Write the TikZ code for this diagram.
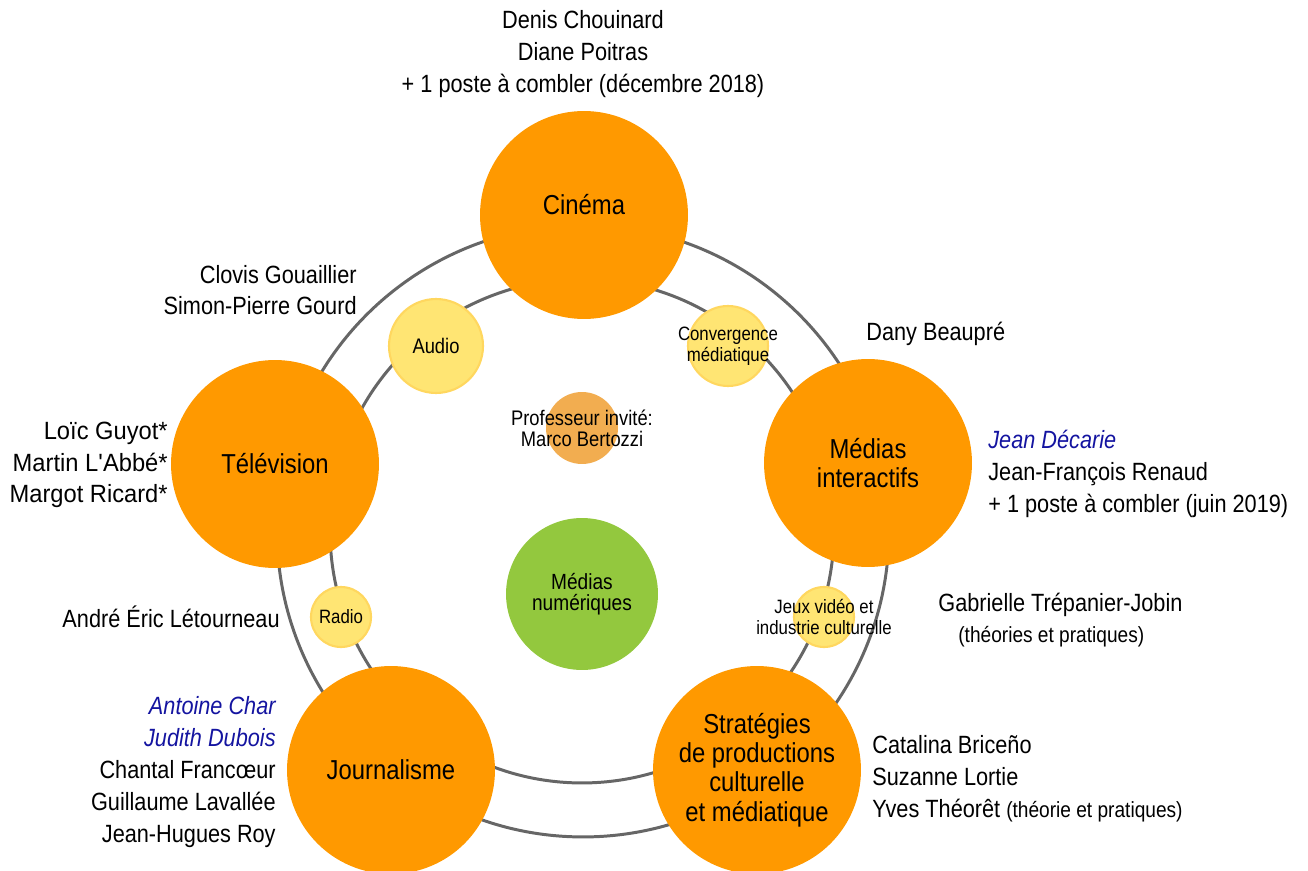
\documentclass[tikz,border=0pt]{standalone}
\usepackage{fontspec}
\setmainfont[FakeStretch=0.87]{Liberation Sans}
\definecolor{polefill}{RGB}{255,153,0}
\definecolor{guestfill}{RGB}{242,173,80}
\definecolor{axefill}{RGB}{255,229,115}
\definecolor{axeline}{RGB}{255,215,95}
\definecolor{hubfill}{RGB}{147,200,62}
\definecolor{ringgray}{RGB}{102,102,102}
\definecolor{newprof}{RGB}{20,20,160}
\newcommand{\detail}{\fontsize{12.5}{14}\selectfont}

\begin{document}
\begin{tikzpicture}[x=0.02cm, y=-0.02cm,
    ring/.style={draw=ringgray, line width=1.7pt, circle, inner sep=0pt},
    pole/.style={circle, fill=polefill, minimum size=4.16cm, inner sep=0pt, align=center, font=\fontsize{15.6}{16.6}\selectfont},
    axe/.style={circle, fill=axefill, draw=axeline, line width=1.2pt, inner sep=0pt},
    tag/.style={align=center, inner sep=0pt, font=\fontsize{11}{11.9}\selectfont},
    names/.style={align=right, anchor=east, inner sep=0pt, font=\fontsize{14.2}{18.1}\selectfont},
    namesl/.style={names, align=left, anchor=west},
    detailnames/.style={namesl, font=\detail}
  ]
    \useasboundingbox (0,0) rectangle (1308,871);

    % Rings
    \node[ring, minimum size=12.24cm] (outer) at (583,531) {};
    \node[ring, minimum size=10.08cm] (inner) at (582,531) {};

    % Poles
    \node[pole] at (584,215) (cinema)      {};
    \node[tag, font=\fontsize{15.6}{16.6}\selectfont] at (584,205) (cinema-t) {Cinéma};
    \node[pole] at (275,464) (tele)        {Télévision};
    \node[pole] at (868,463) (interactifs) {Médias\\interactifs};
    \node[pole] at (391,770) (journalisme) {Journalisme};
    \node[pole] at (757,770) (strategies)  {Stratégies\\de productions\\culturelle\\et médiatique};

    % Axes
    \node[axe, minimum size=1.88cm] at (436,346) (audio)       {};
    \node[axe, minimum size=1.60cm] at (728,346) (convergence) {};
    \node[axe, minimum size=1.20cm] at (341,617) (radio)       {};
    \node[axe, minimum size=1.20cm] at (824,617) (jeux)        {};
    \node[tag, font=\fontsize{12}{12.5}\selectfont] at (audio) (audio-t) {Audio};
    \node[tag] at (convergence) (convergence-t) {Convergence\\médiatique};
    \node[tag] at (radio) (radio-t) {Radio};
    \node[tag] at (jeux)  (jeux-t)  {Jeux vidéo et\\industrie culturelle};

    % Centre
    \node[circle, fill=guestfill, minimum size=1.44cm] at (582,428) (invite) {};
    \node[tag, font=\fontsize{12}{11.9}\selectfont] at (invite) (invite-t) {Professeur invité:\\Marco Bertozzi};
    \node[circle, fill=hubfill, minimum size=3.04cm, inner sep=0pt, align=center, font=\fontsize{12.5}{11.9}\selectfont] at (582,594) (numerique) {Médias\\numériques};

    % Professors
    \node[names, align=center, anchor=center] at (583,54) (cinema-n) {Denis Chouinard\\Diane Poitras\\+ 1 poste à combler (décembre 2018)};
    \node[names] at (357,290) (audio-n) {Clovis Gouaillier\\Simon-Pierre Gourd};
    \node[namesl] at (866,334) (convergence-n) {Dany Beaupré};
    \node[names, font=\fontsize{14.2}{18.1}\selectfont\addfontfeatures{FakeStretch=0.95}] at (168,465) (tele-n) {Loïc Guyot*\\Martin L\textquotesingle Abbé*\\Margot Ricard*};
    \node[namesl] at (988,474) (interactifs-n) {{\color{newprof}\itshape Jean Décarie}\\Jean-François Renaud\\+ 1 poste à combler (juin 2019)};
    \node[names] at (280,617) (radio-n) {André Éric Létourneau};
    \node[namesl] at (938,605) (jeux-n) {Gabrielle Trépanier-Jobin};
    \node[detailnames] at (958,637) (jeux-p) {(théories et pratiques)};
    \node[names] at (276,772) (journalisme-n) {{\color{newprof}\itshape Antoine Char}\\{\color{newprof}\itshape Judith Dubois}\\Chantal Francœur\\Guillaume Lavallée\\Jean-Hugues Roy};
    \node[namesl] at (872,779) (strategies-n) {Catalina Briceño\\Suzanne Lortie\\Yves Théorêt {\detail (théorie et pratiques)}};

  \end{tikzpicture}
\end{document}
